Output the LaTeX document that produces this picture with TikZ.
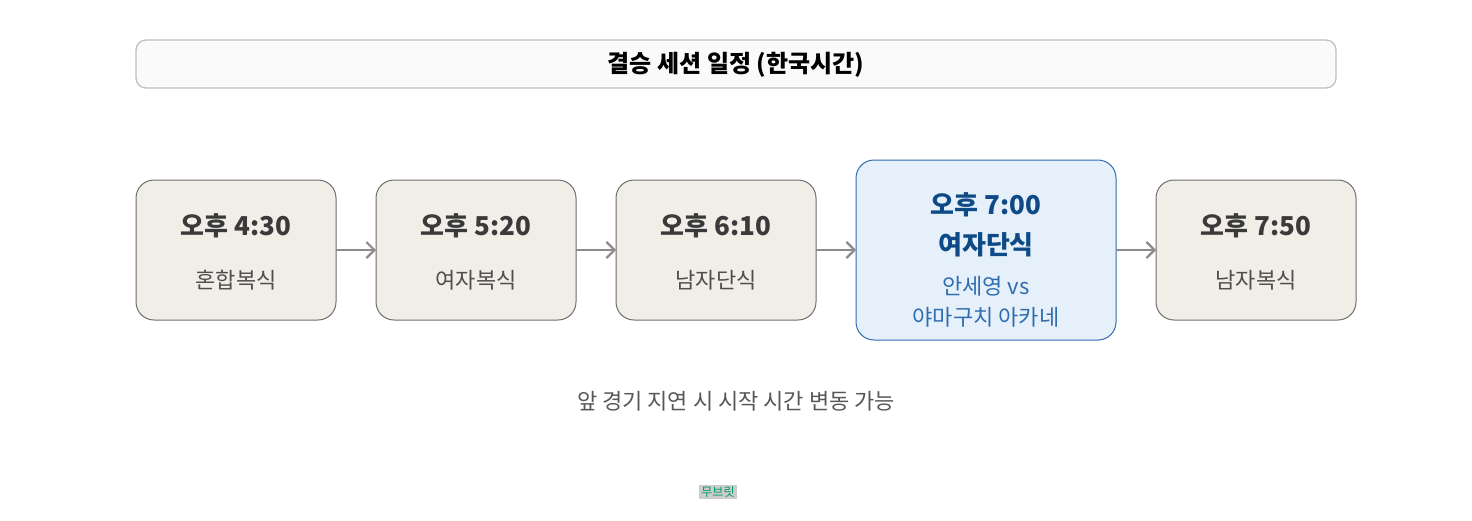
\documentclass[tikz,border=0pt]{standalone}
\usepackage{fontspec}
\setmainfont{Noto Sans CJK KR}
\usetikzlibrary{arrows.meta}
\definecolor{boxfill}{HTML}{F1EEE8}
\definecolor{boxline}{HTML}{6E6E6E}
\definecolor{hifill}{HTML}{E6F0FA}
\definecolor{hiline}{HTML}{2F6DB0}
\definecolor{hitext}{HTML}{0E4A86}
\definecolor{txt}{HTML}{3A3A3A}
\tikzstyle{slot}=[draw=boxline,fill=boxfill,rounded corners=9pt,line width=0.5pt]
\tikzstyle{hislot}=[draw=hiline,fill=hifill,rounded corners=9pt,line width=0.5pt]
\tikzstyle{flow}=[draw=black!45,line width=1.1pt,-{Straight Barb[length=4pt,width=8pt]}]
\tikzstyle{tm}=[font=\fontsize{13}{15}\selectfont\bfseries,text=txt]
\tikzstyle{ev}=[font=\fontsize{11}{13}\selectfont,text=txt!90]
\begin{document}
\begin{tikzpicture}[x=0.5pt,y=-0.5pt]
\useasboundingbox (0,0) rectangle (1472,520);
% title
\draw[draw=black!25,fill=black!2,rounded corners=5pt,line width=0.6pt] (136,40) rectangle (1336,88);
\node[font=\fontsize{12}{14}\selectfont\bfseries] (title) at (736,65) {결승 세션 일정 (한국시간)};
% slots
\draw[slot] (136,180) rectangle (336,320);
\draw[slot] (376,180) rectangle (576,320);
\draw[slot] (616,180) rectangle (816,320);
\draw[hislot] (856,160) rectangle (1116,340);
\draw[slot] (1156,180) rectangle (1356,320);
\coordinate (s1r) at (336,250);
\coordinate (s2l) at (376,250);
\coordinate (s2r) at (576,250);
\coordinate (s3l) at (616,250);
\coordinate (s3r) at (816,250);
\coordinate (s4l) at (856,250);
\coordinate (s4r) at (1116,250);
\coordinate (s5l) at (1156,250);
% labels
\node[tm] (t1) at (236,226) {오후 4:30};
\node[ev] (e1) at (236,280) {혼합복식};
\node[tm] (t2) at (476,226) {오후 5:20};
\node[ev] (e2) at (476,280) {여자복식};
\node[tm] (t3) at (716,226) {오후 6:10};
\node[ev] (e3) at (716,280) {남자단식};
\node[tm,text=hitext] (t4) at (986,205) {오후 7:00};
\node[tm,text=hitext] (e4) at (986,245) {여자단식};
\node[ev,text=hiline] (p4) at (986,286) {안세영 vs};
\node[ev,text=hiline] (q4) at (986,317) {야마구치 아카네};
\node[tm] (t5) at (1256,226) {오후 7:50};
\node[ev] (e5) at (1256,280) {남자복식};
% edges
\draw[flow] (s1r) -- (s2l);
\draw[flow] (s2r) -- (s3l);
\draw[flow] (s3r) -- (s4l);
\draw[flow] (s4r) -- (s5l);
% notes
\node[ev,text=txt!85] (note) at (736,401) {앞 경기 지연 시 시작 시간 변동 가능};
\node[fill=black!20,inner sep=1pt,font=\fontsize{6}{7}\selectfont,text=teal!80!green] (mark) at (718,492) {무브릿};
\end{tikzpicture}
\end{document}
